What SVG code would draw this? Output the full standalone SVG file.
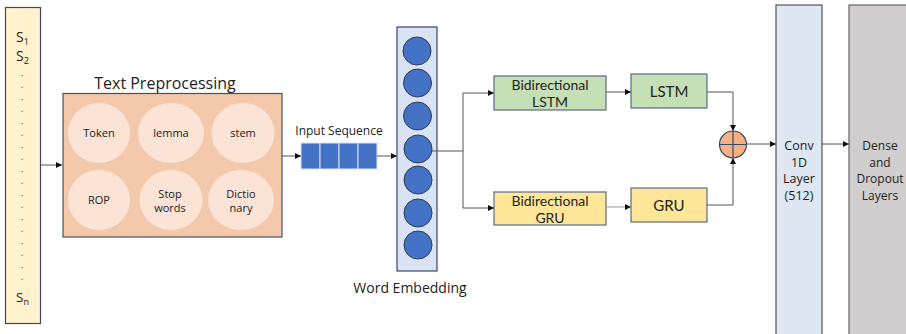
<svg xmlns="http://www.w3.org/2000/svg" width="906" height="334" viewBox="0 0 906 334">
<defs>
<style>
text{font-family:"Open Sans","Noto Sans","Liberation Sans",sans-serif;fill:#222;}
.l{font-family:Lato,"Open Sans","Liberation Sans",sans-serif;}
.c{text-anchor:middle;}
.ln{fill:none;stroke:#555;stroke-width:1;}
.emb{fill:#4472c4;stroke:#2f3b57;stroke-width:1;}
.pre{fill:#fbe3d5;stroke:none;}
.seq{fill:#4472c4;stroke:#d9e2f3;stroke-width:1;}
</style>
<marker id="ah" viewBox="0 0 10 10" refX="10" refY="5" markerWidth="6" markerHeight="6" orient="auto" markerUnits="userSpaceOnUse">
<path d="M0,0 L10,5 L0,10 z" fill="#111"/>
</marker>
</defs>
<rect width="906" height="334" fill="#fff"/>

<g id="sentences">
<rect x="5.5" y="7.5" width="35" height="316" fill="#fff2cc" stroke="#3c4663" stroke-width="1.2"/>
<text x="16" y="42" font-size="14">S<tspan font-size="9" dy="3">1</tspan></text>
<text x="16" y="61" font-size="14">S<tspan font-size="9" dy="3">2</tspan></text>
<g font-size="9" class="c">
<text x="22" y="76">.</text><text x="22" y="88">.</text><text x="22" y="100">.</text><text x="22" y="112">.</text><text x="22" y="124">.</text><text x="22" y="136">.</text><text x="22" y="148">.</text><text x="22" y="160">.</text><text x="22" y="172">.</text><text x="22" y="184">.</text><text x="22" y="196">.</text><text x="22" y="208">.</text><text x="22" y="220">.</text><text x="22" y="232">.</text><text x="22" y="244">.</text><text x="22" y="256">.</text><text x="22" y="268">.</text><text x="22" y="280">.</text>
</g>
<text x="16" y="302" font-size="13.5">S<tspan font-size="9" dy="3">n</tspan></text>
</g>

<g id="text-preprocessing">
<text x="165" y="89" font-size="16" class="c">Text Preprocessing</text>
<rect x="63" y="93.5" width="219" height="143.5" fill="#f4c8aa" stroke="#44506b" stroke-width="1.2"/>
<ellipse class="pre" cx="99" cy="133" rx="31" ry="30"/>
<ellipse class="pre" cx="171" cy="133" rx="33" ry="30"/>
<ellipse class="pre" cx="243" cy="133" rx="31.5" ry="30"/>
<ellipse class="pre" cx="99" cy="200" rx="31" ry="30"/>
<ellipse class="pre" cx="171" cy="200" rx="31.5" ry="30"/>
<ellipse class="pre" cx="241" cy="200" rx="33" ry="30"/>
<g font-size="11" class="c">
<text x="99" y="137">Token</text>
<text x="171" y="137">lemma</text>
<text x="243" y="137">stem</text>
<text x="99" y="204">ROP</text>
<text x="170" y="198">Stop</text>
<text x="170" y="212">words</text>
<text x="241" y="198">Dictio</text>
<text x="241" y="212">nary</text>
</g>
</g>

<g id="input-sequence">
<text x="339" y="135" font-size="12" class="c">Input Sequence</text>
<rect class="seq" x="301" y="143" width="19" height="26"/>
<rect class="seq" x="320" y="143" width="19" height="26"/>
<rect class="seq" x="339" y="143" width="19" height="26"/>
<rect class="seq" x="358" y="143" width="19" height="26"/>
</g>

<g id="word-embedding">
<rect x="397" y="27" width="40" height="244" fill="#dae3f3" stroke="#3c4663" stroke-width="1.2"/>
<circle class="emb" cx="417" cy="51" r="14"/>
<circle class="emb" cx="417.5" cy="83" r="14"/>
<circle class="emb" cx="417.5" cy="116" r="14"/>
<circle class="emb" cx="418" cy="149" r="14"/>
<circle class="emb" cx="418" cy="180" r="14"/>
<circle class="emb" cx="418" cy="213" r="14"/>
<circle class="emb" cx="418" cy="245" r="14"/>
<text x="410" y="293" font-size="14" class="c">Word Embedding</text>
</g>

<g id="bilstm">
<rect x="494" y="76" width="112" height="34" fill="#c5e0b4" stroke="#5b6a8a" stroke-width="1.2"/>
<text x="550" y="90" font-size="14" class="c l">Bidirectional</text>
<text x="550" y="107" font-size="14" class="c l">LSTM</text>
</g>
<g id="lstm">
<rect x="631" y="74" width="76" height="34" fill="#c5e0b4" stroke="#5b6a8a" stroke-width="1.2"/>
<text x="669" y="97" font-size="15" class="c l">LSTM</text>
</g>
<g id="bigru">
<rect x="494" y="192" width="112" height="33" fill="#ffe699" stroke="#5b6a8a" stroke-width="1.2"/>
<text x="550" y="206" font-size="14" class="c l">Bidirectional</text>
<text x="550" y="223" font-size="14" class="c l">GRU</text>
</g>
<g id="gru">
<rect x="631" y="188" width="76" height="34" fill="#ffe699" stroke="#5b6a8a" stroke-width="1.2"/>
<text x="669" y="211" font-size="15" class="c l">GRU</text>
</g>

<g id="add">
<circle cx="733" cy="144.5" r="13.5" fill="#f4b183" stroke="#3c4663" stroke-width="1.2"/>
<path d="M719.5,144.5 H746.5 M733,131 V158" stroke="#3c4663" stroke-width="1.2"/>
</g>

<g id="conv">
<rect x="776" y="5" width="46" height="340" fill="#dee7f2" stroke="#555" stroke-width="1.2"/>
<g font-size="12.5" class="c l">
<text x="799" y="150">Conv</text>
<text x="799" y="166.5">1D</text>
<text x="799" y="183">Layer</text>
<text x="799" y="199.5">(512)</text>
</g>
</g>

<g id="dense">
<rect x="849" y="5" width="70" height="340" fill="#d0cece" stroke="#666" stroke-width="1.2"/>
<g font-size="12" class="c l">
<text x="880" y="150">Dense</text>
<text x="880" y="166.5">and</text>
<text x="880" y="183">Dropout</text>
<text x="880" y="199.5">Layers</text>
</g>
</g>

<g id="connectors">
<path class="ln" d="M40,165 H62" marker-end="url(#ah)"/>
<path class="ln" d="M282,156 H301" marker-end="url(#ah)"/>
<path class="ln" d="M377,156 H397" marker-end="url(#ah)"/>
<path class="ln" d="M432,151 H463 M463,93 V208"/>
<path class="ln" d="M463,93 H494" marker-end="url(#ah)"/>
<path class="ln" d="M463,208 H494" marker-end="url(#ah)"/>
<path class="ln" d="M606,92 H631" marker-end="url(#ah)"/>
<path d="M606,207 H631" fill="none" stroke="#aaa" stroke-width="1.2" marker-end="url(#ah)"/>
<path class="ln" d="M707,92 H733 V131" marker-end="url(#ah)"/>
<path class="ln" d="M707,205 H733 V158" marker-end="url(#ah)"/>
<path class="ln" d="M746.5,144 H776" marker-end="url(#ah)"/>
<path class="ln" d="M822,144 H849" marker-end="url(#ah)"/>
</g>
</svg>
